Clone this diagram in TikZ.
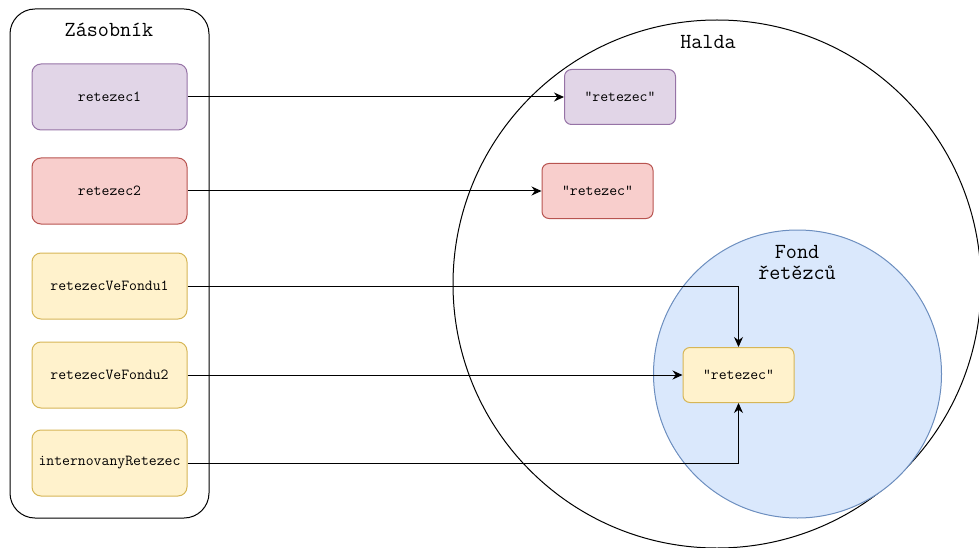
\documentclass[tikz,border=0pt]{standalone}
\usepackage{fontspec}
\usetikzlibrary{arrows.meta}
\definecolor{violetfill}{HTML}{E1D5E7}
\definecolor{violetline}{HTML}{9673A6}
\definecolor{redfill}{HTML}{F8CECC}
\definecolor{redline}{HTML}{B85450}
\definecolor{yellowfill}{HTML}{FFF2CC}
\definecolor{yellowline}{HTML}{D6B656}
\definecolor{poolfill}{HTML}{DAE8FC}
\definecolor{poolline}{HTML}{6C8EBF}
\begin{document}
\begin{tikzpicture}[x=1pt, y=-1pt, line width=1pt,
  var/.style={draw, rounded corners=9pt, minimum width=155pt, minimum height=66pt, inner sep=0pt, font=\ttfamily\fontsize{15.3}{17}\selectfont},
  val/.style={draw, rounded corners=7pt, minimum width=111pt, minimum height=55pt, inner sep=0pt, font=\ttfamily\fontsize{15.3}{17}\selectfont},
  caption/.style={inner sep=0pt, align=center, font=\ttfamily\fontsize{21.5}{21}\selectfont},
  ptr/.style={-{Stealth[length=10pt,width=9pt]}}]
\useasboundingbox (0,0) rectangle (979,548);
\clip (0,0) rectangle (979,548);
% zasobnik
\node[draw, rounded corners=25pt, minimum width=199pt, minimum height=509pt] (stack) at (109.5,263.5) {};
\node[caption] (stacktitle) at (109,30) {Zásobník};
\node[var, fill=violetfill, draw=violetline] (var1) at (109.5,97) {retezec1};
\node[var, fill=redfill, draw=redline] (var2) at (109.5,191) {retezec2};
\node[var, fill=yellowfill, draw=yellowline] (var3) at (109.5,286) {retezecVeFondu1};
\node[var, fill=yellowfill, draw=yellowline] (var4) at (109.5,375) {retezecVeFondu2};
\node[var, fill=yellowfill, draw=yellowline] (var5) at (109.5,463) {internovanyRetezec};
% halda
\node[draw, circle, minimum size=528pt, inner sep=0pt] (heap) at (717,284) {};
\node[caption] (heaptitle) at (708,42) {Halda};
\node[draw=poolline, fill=poolfill, circle, minimum size=288pt, inner sep=0pt] (pool) at (797.5,374) {};
\node[caption] (pooltitle) at (797,262) {Fond\\řetězců};
\node[val, fill=violetfill, draw=violetline] (str1) at (620,97) {"retezec"};
\node[val, fill=redfill, draw=redline] (str2) at (597.5,191) {"retezec"};
\node[val, fill=yellowfill, draw=yellowline] (str3) at (738.5,375) {"retezec"};
% reference
\draw[ptr] (var1) -- (str1);
\draw[ptr] (var2) -- (str2);
\draw[ptr] (var3) -| (str3);
\draw[ptr] (var4) -- (str3);
\draw[ptr] (var5) -| (str3);
\end{tikzpicture}
\end{document}
